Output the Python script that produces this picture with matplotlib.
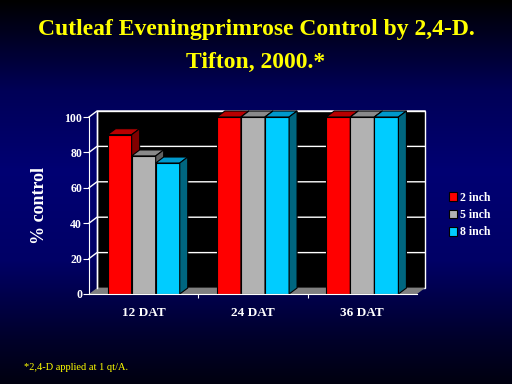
import matplotlib.pyplot as plt
import numpy as np
from matplotlib.patches import Polygon, Patch

categories = ['12 DAT', '24 DAT', '36 DAT']
series = ['2 inch', '5 inch', '8 inch']
values_2in = [90, 100, 100]
values_5in = [78, 100, 100]
values_8in = [74, 100, 100]
yticks = [0, 20, 40, 60, 80, 100]

fronts = ['#ff0000', '#b2b2b2', '#00ccff']
tops = ['#b80000', '#8a8a8a', '#0099cc']
sides = ['#800000', '#606060', '#006680']

serif = 'Liberation Serif'

fig = plt.figure(figsize=(5.12, 3.84), dpi=100)

# background gradient
bg = fig.add_axes([0, 0, 1, 1], zorder=-10)
ypix = np.arange(384)
blue = np.interp(ypix, [0, 90, 170, 260, 340, 384], [0.0, 0.34, 0.45, 0.40, 0.16, 0.06])
grad = np.zeros((384, 1, 3))
grad[:, 0, 2] = blue
bg.imshow(grad, aspect='auto', extent=[0, 1, 0, 1])
bg.axis('off')

ax = fig.add_axes([89/512, 1-294/384, 328/512, 177/384])
ax.set_xlim(-0.5, 2.5)
ax.set_ylim(0, 100)
ax.patch.set_visible(False)

# 3D depth in data units
dx = 8/328*3
dy = 6/177*100
x0, x1 = ax.get_xlim()

# back wall and floor
ax.add_patch(Polygon([(x0+dx, dy), (x1+dx, dy), (x1+dx, 100+dy), (x0+dx, 100+dy)],
                     closed=True, facecolor='black', edgecolor='white', lw=1,
                     clip_on=False, zorder=0))
ax.add_patch(Polygon([(x0, 0), (x1, 0), (x1+dx, dy), (x0+dx, dy)],
                     closed=True, facecolor='#808080', edgecolor='none',
                     clip_on=False, zorder=1))
for t in yticks[1:]:
    ax.plot([x0, x0+dx, x1+dx], [t, t+dy, t+dy], color='white', lw=1,
            clip_on=False, zorder=1)
ax.plot([x0+dx, x0+dx], [dy, 100+dy], color='white', lw=1, clip_on=False, zorder=1)

# bars
w = 0.22
x = np.arange(len(categories))
allvals = [values_2in, values_5in, values_8in]
for i, vals in enumerate(allvals):
    xs = x + (i-1)*w
    z = 3 + i
    ax.bar(xs, vals, width=w, color=fronts[i], edgecolor='black', lw=0.8,
           zorder=z, clip_on=False)
    for xc, v in zip(xs, vals):
        L, R = xc - w/2, xc + w/2
        ax.add_patch(Polygon([(L, v), (R, v), (R+dx, v+dy), (L+dx, v+dy)],
                             closed=True, facecolor=tops[i], edgecolor='black',
                             lw=0.8, clip_on=False, zorder=z))
        ax.add_patch(Polygon([(R, 0), (R+dx, dy), (R+dx, v+dy), (R, v)],
                             closed=True, facecolor=sides[i], edgecolor='black',
                             lw=0.8, clip_on=False, zorder=z))

# axes styling
for s in ['top', 'right']:
    ax.spines[s].set_visible(False)
for s in ['left', 'bottom']:
    ax.spines[s].set_color('white')
    ax.spines[s].set_zorder(10)
ax.set_yticks(yticks)
ax.set_yticklabels([str(t) for t in yticks], color='white', fontfamily=serif,
                   fontweight='bold', fontsize=8.5)
ax.tick_params(axis='y', colors='white', length=4, pad=1)
ax.set_xticks([0.5, 1.5])
ax.set_xticklabels([])
ax.tick_params(axis='x', which='major', colors='white', length=3)
ax.set_xticks(x, minor=True)
ax.set_xticklabels(categories, minor=True, color='white', fontfamily=serif,
                   fontweight='bold', fontsize=9.5)
ax.tick_params(axis='x', which='minor', length=0, pad=9)
ax.set_ylabel('% control', color='white', fontfamily=serif, fontweight='bold',
              fontsize=13, labelpad=12)

# legend
handles = [Patch(facecolor=c, edgecolor='black', lw=0.8) for c in fronts]
fig.legend(handles, series, loc='center left', bbox_to_anchor=(449/512, 1-215/384),
           frameon=False, labelcolor='white',
           prop={'family': serif, 'weight': 'bold', 'size': 8.5},
           handlelength=0.65, handleheight=0.75, handletextpad=0.3, labelspacing=0.45,
           borderaxespad=0, borderpad=0)

# titles
fig.text(0.5, 1-29/384, 'Cutleaf Eveningprimrose Control by 2,4-D.', ha='center',
         va='center', color='#ffff00', fontfamily=serif, fontweight='bold', fontsize=17)
fig.text(0.5, 1-62/384, 'Tifton, 2000.*', ha='center', va='center', color='#ffff00',
         fontfamily=serif, fontweight='bold', fontsize=17)
fig.text(24/512, 1-367/384, '*2,4-D applied at 1 qt/A.', ha='left', va='center',
         color='#ffff00', fontfamily=serif, fontsize=7.5)

fig.savefig('out.png', dpi=100)
